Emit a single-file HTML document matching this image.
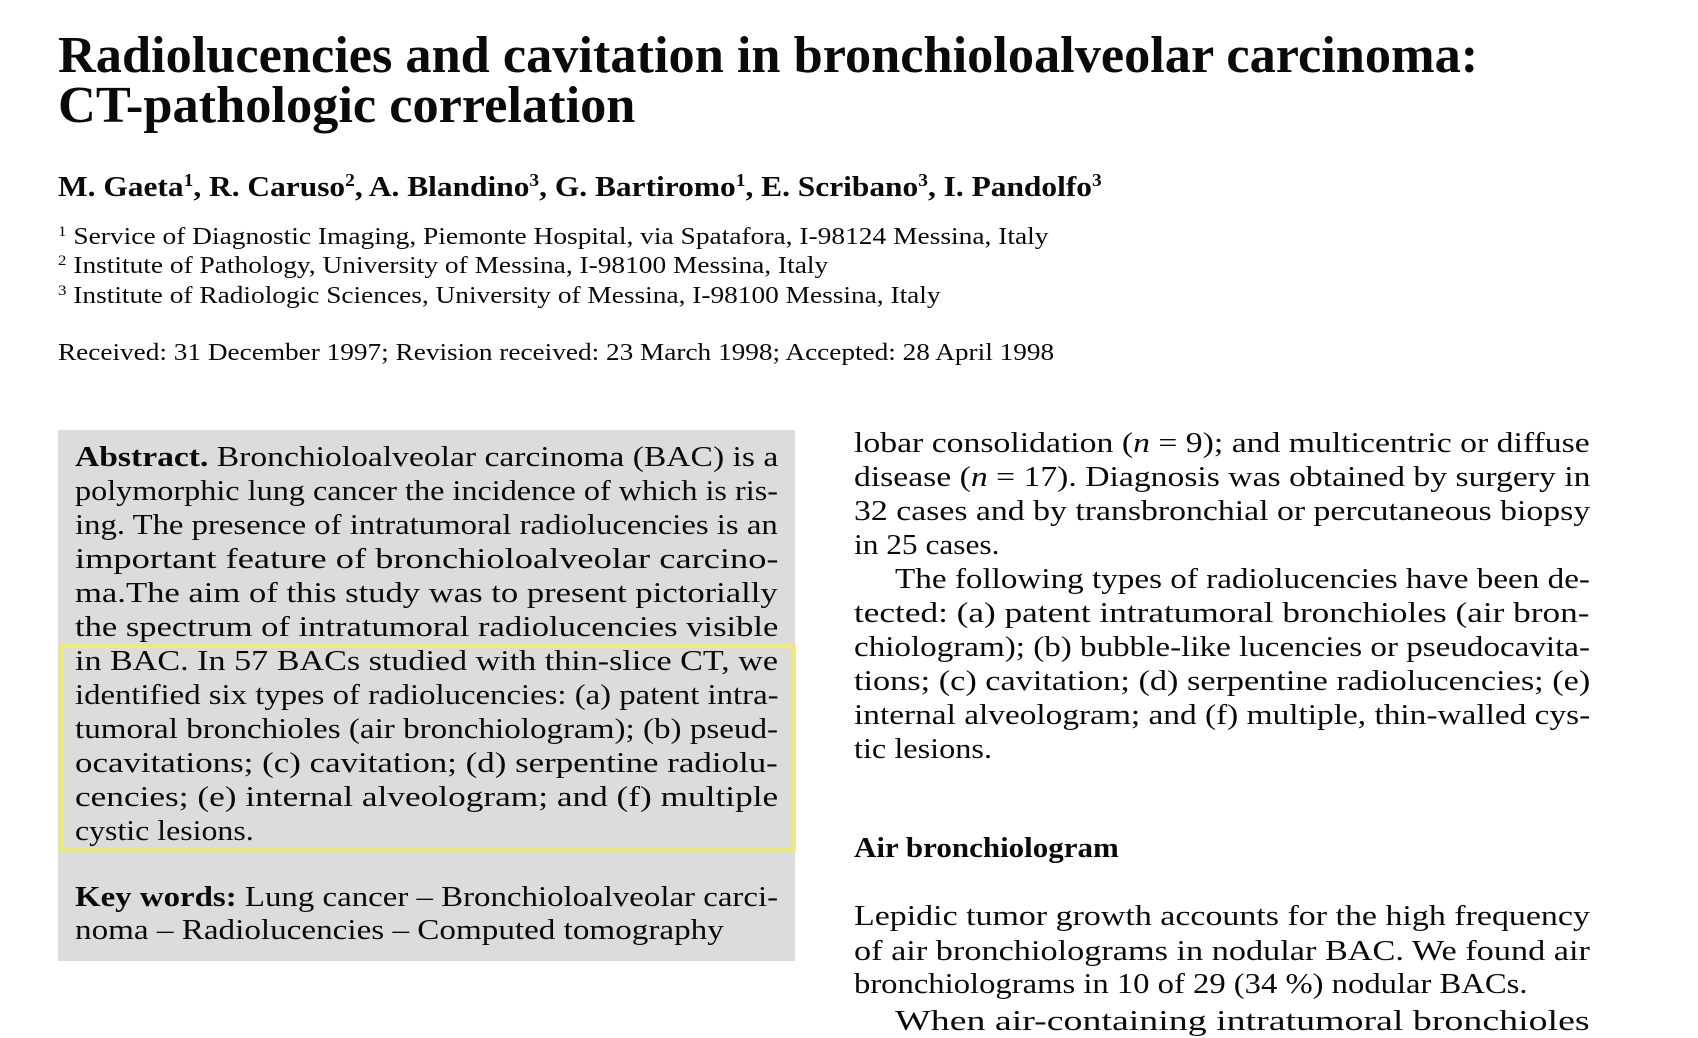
<!DOCTYPE html>
<html><head><meta charset="utf-8">
<style>
html,body{margin:0;padding:0;background:#fff;}
body{width:1698px;height:1014px;position:relative;overflow:hidden;font-family:"Liberation Serif","Times New Roman",serif;color:#0a0a0a;}
.ln{position:absolute;white-space:nowrap;transform-origin:0 50%;}
.t{font-weight:bold;font-size:52px;line-height:56px;}
.au{font-weight:bold;font-size:29px;line-height:34px;}
.af{font-size:24px;line-height:28px;}
.b{font-size:29px;line-height:34px;}
sup{font-size:62%;vertical-align:0.55em;line-height:0;}
#abox{position:absolute;left:58px;top:430px;width:737px;height:531px;background:#dcdcdc;}
#ybox{position:absolute;left:61px;top:645px;width:729px;height:201px;border:3px solid #f4ef55;}
</style></head>
<body>
<div>
<div class="ln t" data-w="1420" style="left:58px;top:28px">Radiolucencies and cavitation in bronchioloalveolar carcinoma:</div>
<div class="ln t" data-w="577" style="left:58px;top:78px">CT-pathologic correlation</div>
</div>
<div class="ln au" data-w="1044" style="left:58px;top:170px">M. Gaeta<sup>1</sup>, R. Caruso<sup>2</sup>, A. Blandino<sup>3</sup>, G. Bartiromo<sup>1</sup>, E. Scribano<sup>3</sup>, I. Pandolfo<sup>3</sup></div>
<div>
<div class="ln af" data-w="991" style="left:58px;top:223px"><sup>1</sup> Service of Diagnostic Imaging, Piemonte Hospital, via Spatafora, I-98124 Messina, Italy</div>
<div class="ln af" data-w="770" style="left:58px;top:252px"><sup>2</sup> Institute of Pathology, University of Messina, I-98100 Messina, Italy</div>
<div class="ln af" data-w="883" style="left:58px;top:282px"><sup>3</sup> Institute of Radiologic Sciences, University of Messina, I-98100 Messina, Italy</div>
</div>
<div class="ln af" data-w="996" style="left:58px;top:339px">Received: 31 December 1997; Revision received: 23 March 1998; Accepted: 28 April 1998</div>

<div id="abox"></div>
<div id="ybox"></div>
<div>
<div class="ln b" data-w="703" style="left:75px;top:440px"><b>Abstract.</b> Bronchioloalveolar carcinoma (BAC) is a</div>
<div class="ln b" data-w="703" style="left:75px;top:474px">polymorphic lung cancer the incidence of which is ris-</div>
<div class="ln b" data-w="703" style="left:75px;top:508px">ing. The presence of intratumoral radiolucencies is an</div>
<div class="ln b" data-w="703" style="left:75px;top:542px">important feature of bronchioloalveolar carcino-</div>
<div class="ln b" data-w="703" style="left:75px;top:576px">ma.The aim of this study was to present pictorially</div>
<div class="ln b" data-w="703" style="left:75px;top:610px">the spectrum of intratumoral radiolucencies visible</div>
<div class="ln b" data-w="703" style="left:75px;top:644px">in BAC. In 57 BACs studied with thin-slice CT, we</div>
<div class="ln b" data-w="703" style="left:75px;top:678px">identified six types of radiolucencies: (a) patent intra-</div>
<div class="ln b" data-w="703" style="left:75px;top:712px">tumoral bronchioles (air bronchiologram); (b) pseud-</div>
<div class="ln b" data-w="703" style="left:75px;top:746px">ocavitations; (c) cavitation; (d) serpentine radiolu-</div>
<div class="ln b" data-w="703" style="left:75px;top:780px">cencies; (e) internal alveologram; and (f) multiple</div>
<div class="ln b" data-w="179" style="left:75px;top:814px">cystic lesions.</div>
</div>
<div>
<div class="ln b" data-w="703" style="left:75px;top:880px"><b>Key words:</b> Lung cancer – Bronchioloalveolar carci-</div>
<div class="ln b" data-w="649" style="left:75px;top:913px">noma – Radiolucencies – Computed tomography</div>
</div>

<div>
<div class="ln b" data-w="736" style="left:854px;top:426px">lobar consolidation (<i>n</i> = 9); and multicentric or diffuse</div>
<div class="ln b" data-w="736" style="left:854px;top:460px">disease (<i>n</i> = 17). Diagnosis was obtained by surgery in</div>
<div class="ln b" data-w="736" style="left:854px;top:494px">32 cases and by transbronchial or percutaneous biopsy</div>
<div class="ln b" data-w="146" style="left:854px;top:528px">in 25 cases.</div>
<div class="ln b" data-w="695" style="left:895px;top:562px">The following types of radiolucencies have been de-</div>
<div class="ln b" data-w="736" style="left:854px;top:596px">tected: (a) patent intratumoral bronchioles (air bron-</div>
<div class="ln b" data-w="736" style="left:854px;top:630px">chiologram); (b) bubble-like lucencies or pseudocavita-</div>
<div class="ln b" data-w="736" style="left:854px;top:664px">tions; (c) cavitation; (d) serpentine radiolucencies; (e)</div>
<div class="ln b" data-w="736" style="left:854px;top:698px">internal alveologram; and (f) multiple, thin-walled cys-</div>
<div class="ln b" data-w="138" style="left:854px;top:732px">tic lesions.</div>
</div>
<div class="ln b" data-w="265" style="left:854px;top:831px"><b>Air bronchiologram</b></div>
<div>
<div class="ln b" data-w="736" style="left:854px;top:899px">Lepidic tumor growth accounts for the high frequency</div>
<div class="ln b" data-w="736" style="left:854px;top:934px">of air bronchiolograms in nodular BAC. We found air</div>
<div class="ln b" data-w="673" style="left:854px;top:967px">bronchiolograms in 10 of 29 (34 %) nodular BACs.</div>
<div class="ln b" data-w="695" style="left:895px;top:1004px">When air-containing intratumoral bronchioles</div>
</div>
<script>
document.querySelectorAll('.ln').forEach(function(el){
  var w=parseFloat(el.getAttribute('data-w'));
  var nat=el.scrollWidth;
  if(nat>0&&w)el.style.transform='scaleX('+(w/nat)+')';
});
</script>
</body></html>
